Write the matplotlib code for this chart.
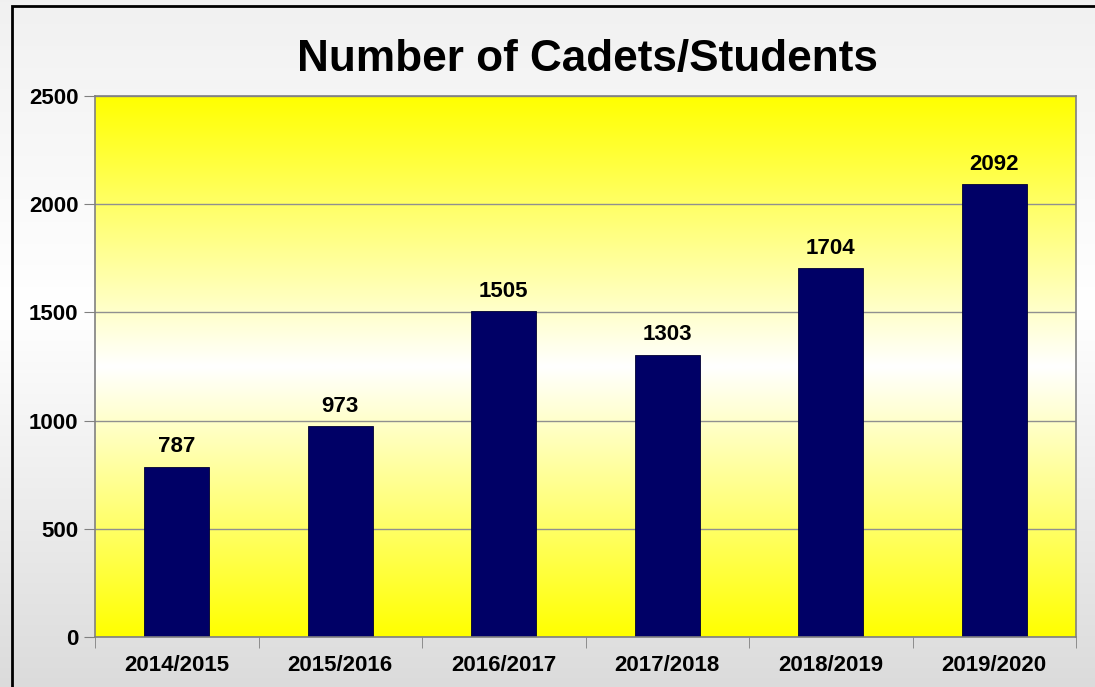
import numpy as np
import matplotlib.pyplot as plt
from matplotlib.patches import Rectangle

# chart data
years = ["2014/2015", "2015/2016", "2016/2017", "2017/2018", "2018/2019", "2019/2020"]
cadets = [787, 973, 1505, 1303, 1704, 2092]
y_ticks = [0, 500, 1000, 1500, 2000, 2500]

plt.rcParams["font.family"] = ["Liberation Sans", "DejaVu Sans"]
plt.rcParams["font.weight"] = "bold"

W, H = 1095, 687
fig = plt.figure(figsize=(W / 100, H / 100), dpi=100)

# figure background: light grey gradient, white in the middle
bg = fig.add_axes([0, 0, 1, 1], zorder=-10)
t = np.linspace(0, 1, 256)
shade = np.interp(t, [0, 0.45, 1], [0.945, 1.0, 0.86])
bg.imshow(np.tile(shade[:, None, None], (1, 1, 3)), aspect="auto",
          extent=[0, 1, 0, 1], origin="upper")
bg.set_xlim(0, 1)
bg.set_ylim(0, 1)
bg.axis("off")
# outer chart frame (cropped on the right and bottom)
bg.add_patch(Rectangle((12 / W, -0.05), 1.2, 1 - 6 / H + 0.05,
                       fill=False, edgecolor="black", lw=2))

left, right, top, bottom = 95, 1076, 96, 637
ax = fig.add_axes([left / W, 1 - bottom / H, (right - left) / W, (bottom - top) / H])

# plot area: yellow-white-yellow gradient
grad = np.interp(t, [0, 0.5, 1], [0.0, 1.0, 0.0])
img = np.stack([np.ones_like(grad), np.ones_like(grad), grad], axis=1)[:, None, :]
x = np.arange(len(years))
ax.imshow(img, aspect="auto", extent=[-0.5, len(years) - 0.5, 0, 2500],
          origin="upper", zorder=0)

ax.bar(x, cadets, width=0.4, color="#000066", edgecolor="#000033", lw=0.6, zorder=3)
for xi, v in zip(x, cadets):
    ax.annotate(str(v), (xi, v), xytext=(0, 7), textcoords="offset points",
                ha="center", va="bottom", fontsize=16, fontweight="bold", zorder=4)

ax.set_xlim(-0.5, len(years) - 0.5)
ax.set_ylim(0, 2500)
ax.set_yticks(y_ticks)
ax.set_yticklabels([str(v) for v in y_ticks], fontsize=16, fontweight="bold")
ax.set_xticks(x)
ax.set_xticklabels(years, fontsize=16, fontweight="bold")
ax.tick_params(axis="x", length=0, pad=13)
ax.tick_params(axis="y", length=8, color="#808080", pad=4)
ax.set_xticks(np.arange(len(years) + 1) - 0.5, minor=True)
ax.tick_params(axis="x", which="minor", length=8, color="#808080")
ax.grid(axis="y", color="#909090", lw=1, zorder=1)
ax.set_axisbelow(False)
for s in ax.spines.values():
    s.set_color("#808080")
    s.set_linewidth(1.2)
    s.set_zorder(5)

fig.text(587 / W, 1 - 60 / H, "Number of Cadets/Students", ha="center", va="center",
         fontsize=31.8, fontweight="bold")

fig.savefig("out.png", dpi=100)
